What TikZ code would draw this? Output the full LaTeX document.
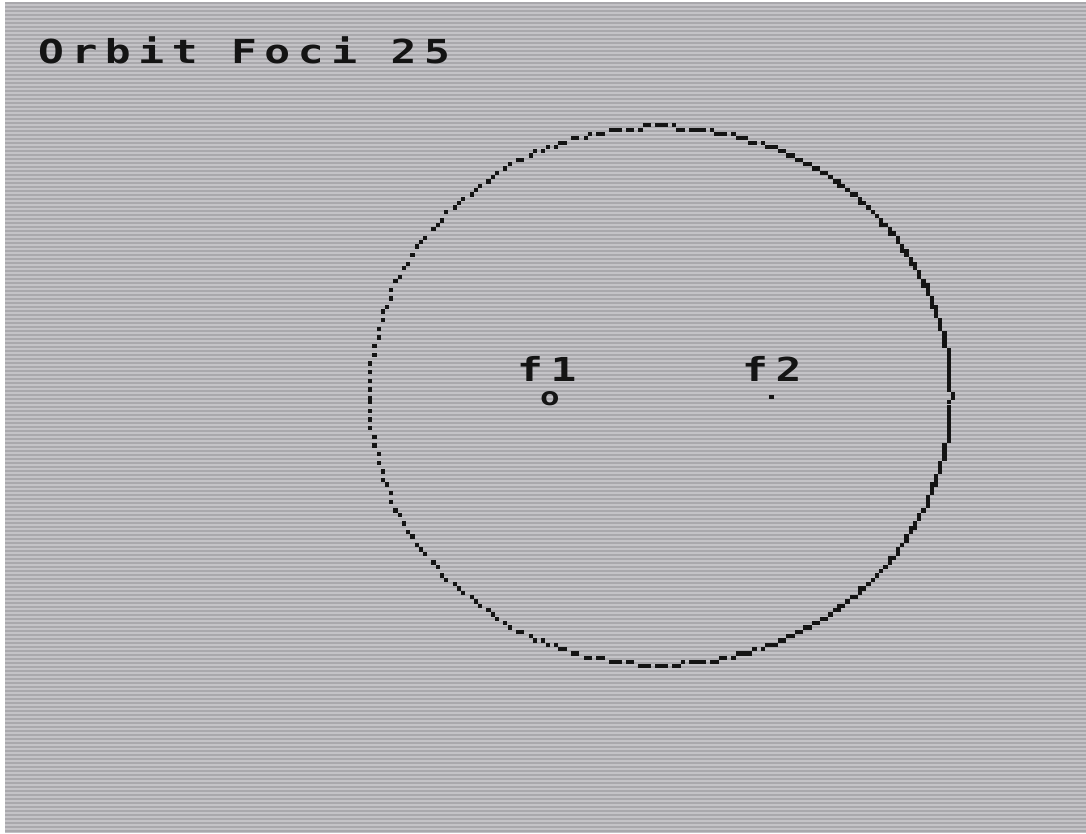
\documentclass[tikz,border=0pt]{standalone}
\usepackage{fontspec}
\newfontfamily\specfont[FakeStretch=1.3,LetterSpace=23]{DejaVu Sans Mono}
\definecolor{ink}{HTML}{141414}
\definecolor{scanlight}{HTML}{C4C3C7}
\definecolor{scandark}{HTML}{A9A8AC}
\tikzset{
  lbl/.style={anchor=base west, inner sep=0pt, text=ink,
    font=\specfont\bfseries\fontsize{33}{33}\selectfont},
  sunlbl/.style={anchor=center, inner sep=0pt, text=ink,
    font=\specfont\bfseries\fontsize{25}{25}\selectfont},
  pixel/.style={fill=ink, draw=none, inner sep=0pt, minimum size=4.2pt},
}
\def\kstep{\pgfmathsetmacro\E{\M+21.632*sin(\E)}}
\begin{document}
\begin{tikzpicture}[x=1pt,y=-1pt]
  \useasboundingbox (0,0) rectangle (1086,833);
  \fill[white] (0,0) rectangle (1086,833);
  % screen with scanlines
  \fill[scanlight] (5,2) rectangle (1086,833);
  \foreach \j in {0,...,207}{
    \fill[scandark] (5,{2+4*\j}) rectangle (1086,{4+4*\j});
  }
  % title
  \node[lbl] (title) at (38,63) {Orbit Foci 25};
  % foci labels
  \node[lbl] (f1) at (517,381) {f1};
  \node[lbl] (f2) at (742,381) {f2};
  \node[sunlbl] (sun) at (550,399) {o};
  \node[pixel] (f2pt) at (771.4,397) {};
  % orbit: equal time steps (Kepler), snapped to screen pixels
  \foreach \i in {0,...,319}{
    \pgfmathsetmacro\M{\i*1.125}
    \pgfmathsetmacro\E{\M}
    \kstep\kstep\kstep\kstep\kstep\kstep\kstep\kstep\kstep\kstep
    \pgfmathsetmacro\X{5+4.2227*floor((660.5-290.5*cos(\E)-5)/4.2227)}
    \pgfmathsetmacro\Y{2+4.328*floor((396+269*sin(\E)-2)/4.328)}
    \fill[ink] (\X,\Y) rectangle ++(4.2,4.3);
  }
\end{tikzpicture}
\end{document}
